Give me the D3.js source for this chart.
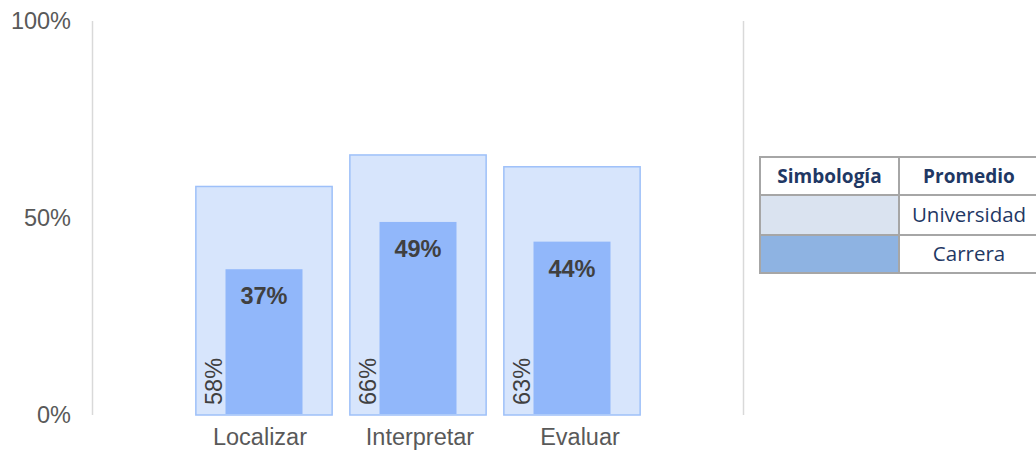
<!DOCTYPE html>
<html><head><meta charset="utf-8">
<script src="https://cdn.jsdelivr.net/npm/d3@7"></script>
<style>body{margin:0;background:#fff}</style>
</head><body>
<svg id="c" width="1036" height="450"></svg>
<script>
const categories = ["Localizar", "Interpretar", "Evaluar"];
const universidad = [58, 66, 63];
const carrera = [37, 49, 44];
const yTicks = [0, 50, 100];
const legendHeaders = ["Simbología", "Promedio"];
const legendRows = ["Universidad", "Carrera"];

const svg = d3.select("#c");
const y = d3.scaleLinear().domain([0, 100]).range([415, 21]);
const x = d3.scaleBand().domain(categories).range([187, 649]).paddingInner(0).paddingOuter(0);
const xLab = d3.scaleBand().domain(categories).range([180, 660]);
const bw = x.bandwidth();
const outerW = bw * 0.885, innerW = bw * 0.5;
const FONT = "Liberation Sans, Arial, sans-serif";

// frame lines
svg.append("line").attr("x1", 92.5).attr("x2", 92.5).attr("y1", y(100)).attr("y2", y(0))
  .attr("stroke", "#d9d9d9").attr("stroke-width", 1.5);
svg.append("line").attr("x1", 743.5).attr("x2", 743.5).attr("y1", y(100)).attr("y2", y(0))
  .attr("stroke", "#d9d9d9").attr("stroke-width", 1.5);

// y labels
svg.selectAll(".yt").data(yTicks).enter().append("text")
  .attr("x", 71).attr("y", d => y(d) + 8).attr("text-anchor", "end")
  .attr("font-family", FONT).attr("font-size", 23.5)
  .attr("fill", "#595959").text(d => d + "%");

const g = svg.append("g");
g.selectAll(".ob").data(categories).enter().append("rect")
  .attr("x", d => x(d) + bw / 2 - outerW / 2)
  .attr("y", (d, i) => y(universidad[i]))
  .attr("width", outerW)
  .attr("height", (d, i) => y(0) - y(universidad[i]))
  .attr("fill", "#d7e5fc").attr("stroke", "#9ec0f9").attr("stroke-width", 1.5);
g.selectAll(".ib").data(categories).enter().append("rect")
  .attr("x", d => x(d) + bw / 2 - innerW / 2)
  .attr("y", (d, i) => y(carrera[i]))
  .attr("width", innerW)
  .attr("height", (d, i) => y(0) - y(carrera[i]) - 1)
  .attr("fill", "#91b7fa");
g.selectAll(".il").data(categories).enter().append("text")
  .attr("x", d => x(d) + bw / 2)
  .attr("y", (d, i) => y(carrera[i]) + 35)
  .attr("text-anchor", "middle")
  .attr("font-family", FONT).attr("font-size", 23.5).attr("font-weight", "bold")
  .attr("fill", "#404040").text((d, i) => carrera[i] + "%");
g.selectAll(".ol").data(categories).enter().append("text")
  .attr("transform", d => {
    const cx = x(d) + bw / 2 - innerW / 2 - 4;
    return `translate(${cx},${y(0) - 10}) rotate(-90)`;
  })
  .attr("text-anchor", "start")
  .attr("font-family", FONT).attr("font-size", 23.5)
  .attr("fill", "#404040").text((d, i) => universidad[i] + "%");
svg.selectAll(".xl").data(categories).enter().append("text")
  .attr("x", d => xLab(d) + xLab.bandwidth() / 2).attr("y", 445).attr("text-anchor", "middle")
  .attr("font-family", FONT).attr("font-size", 23.5)
  .attr("fill", "#595959").text(d => d);

// legend table
const lx = 760, ly = 157, cw = [139, 140], rh = [38, 40, 38];
const lg = svg.append("g");
const fills = ["#dae3f0", "#8eb3e2"];
let yy = ly;
rh.forEach((h, r) => {
  let xx = lx;
  cw.forEach((w, c) => {
    let fill = "#ffffff";
    if (r > 0 && c === 0) fill = fills[r - 1];
    lg.append("rect").attr("x", xx).attr("y", yy).attr("width", w).attr("height", h)
      .attr("fill", fill).attr("stroke", "#a6a6a6").attr("stroke-width", 2);
    let txt = null, bold = false;
    if (r === 0) { txt = legendHeaders[c]; bold = true; }
    else if (c === 1) txt = legendRows[r - 1];
    if (txt) {
      lg.append("text").attr("x", xx + w / 2).attr("y", yy + h / 2 + 7)
        .attr("text-anchor", "middle")
        .attr("font-family", "Open Sans, sans-serif").attr("font-size", bold ? 19 : 20.5)
        .attr("font-weight", bold ? "bold" : "normal")
        .attr("fill", "#1f3864").text(txt);
    }
    xx += w;
  });
  yy += h;
});
</script>
</body></html>
